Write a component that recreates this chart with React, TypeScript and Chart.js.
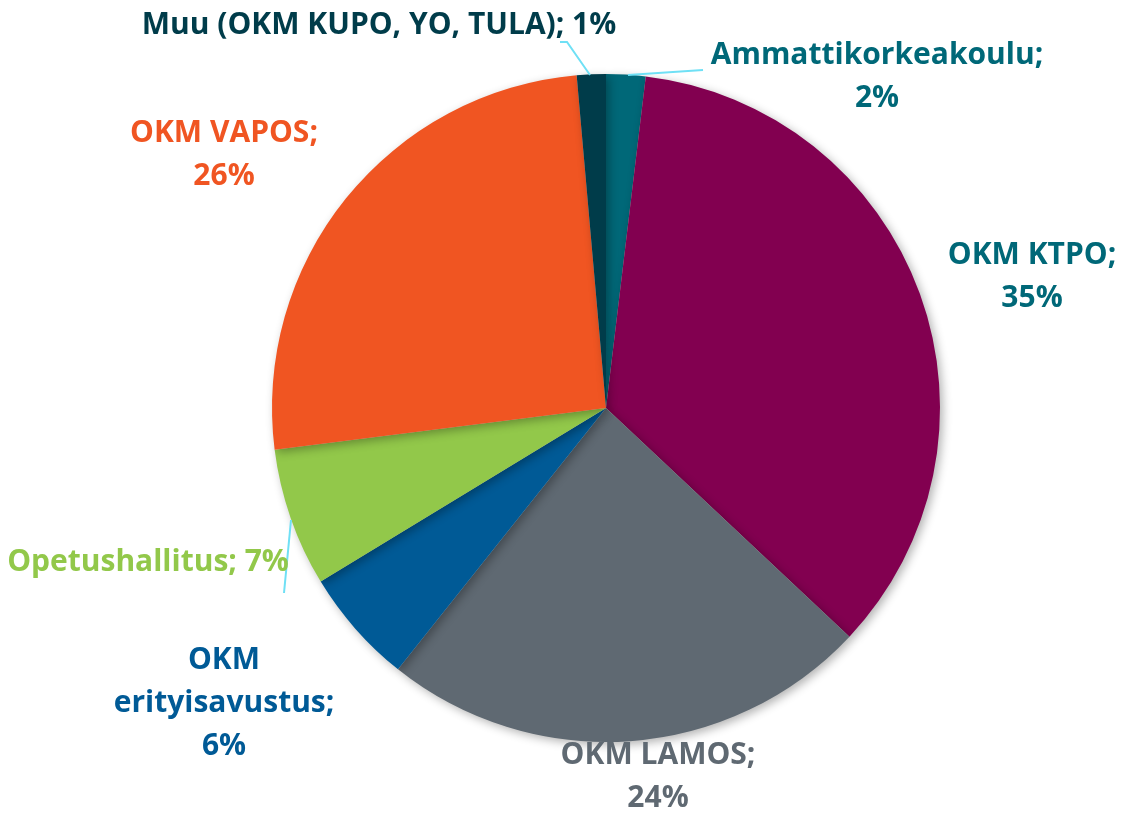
import React, { useEffect, useRef } from "react";
import { Chart, registerables } from "chart.js";

Chart.register(...registerables);

const categories = [
  "Ammattikorkeakoulu",
  "OKM KTPO",
  "OKM LAMOS",
  "OKM erityisavustus",
  "Opetushallitus",
  "OKM VAPOS",
  "Muu (OKM KUPO, YO, TULA)",
];
const values = [1.9, 35.1, 23.7, 5.6, 6.7, 25.6, 1.4];
const percentLabels = ["2%", "35%", "24%", "6%", "7%", "26%", "1%"];
const sliceColors = ["#006878", "#820050", "#5f6972", "#005a96", "#92c84a", "#f05522", "#003c4a"];
const labelColors = ["#006878", "#006878", "#5f6972", "#005a96", "#92c84a", "#f05522", "#003c4a"];

// label layout: lines built from categories + percent labels
const labelLayout = [
  { x: 877, y: 55, lines: (c: string, p: string) => [c + ";", p] },
  { x: 1032, y: 255, lines: (c: string, p: string) => [c + ";", p] },
  { x: 658, y: 755, lines: (c: string, p: string) => [c + ";", p] },
  { x: 224, y: 660, lines: (c: string, p: string) => ["OKM", c.replace("OKM ", "") + ";", p] },
  { x: 148, y: 562, lines: (c: string, p: string) => [c + "; " + p] },
  { x: 224, y: 133, lines: (c: string, p: string) => [c + ";", p] },
  { x: 379, y: 25, lines: (c: string, p: string) => [c + "; " + p] },
];
const leaderLines: Array<Array<[number, number]>> = [
  [[628, 75], [703, 70]],
  [],
  [],
  [],
  [[291, 520], [284, 593]],
  [],
  [[560, 42], [567, 42], [590, 75]],
];

const labelPlugin = {
  id: "sliceLabels",
  beforeDatasetsDraw(chart: any) {
    const ctx = chart.ctx;
    ctx.save();
    ctx.shadowColor = "rgba(0,0,0,0.3)";
    ctx.shadowBlur = 10;
    ctx.shadowOffsetX = 3;
    ctx.shadowOffsetY = 3;
  },
  afterDatasetsDraw(chart: any) {
    chart.ctx.restore();
  },
  afterDraw(chart: any) {
    const ctx = chart.ctx;
    ctx.save();
    ctx.strokeStyle = "#6fe0f5";
    ctx.lineWidth = 2;
    leaderLines.forEach((pts) => {
      if (pts.length < 2) return;
      ctx.beginPath();
      ctx.moveTo(pts[0][0], pts[0][1]);
      for (let i = 1; i < pts.length; i++) ctx.lineTo(pts[i][0], pts[i][1]);
      ctx.stroke();
    });
    ctx.font = "bold 30px 'Open Sans'";
    ctx.textAlign = "center";
    ctx.textBaseline = "middle";
    categories.forEach((c, i) => {
      const l = labelLayout[i];
      const lines = l.lines(c, percentLabels[i]);
      ctx.fillStyle = labelColors[i];
      lines.forEach((t, k) => ctx.fillText(t, l.x, l.y + k * 43));
    });
    ctx.restore();
  },
};

export default function App() {
  const ref = useRef<HTMLCanvasElement>(null);
  useEffect(() => {
    document.body.style.margin = "0";
    const chart = new Chart(ref.current!, {
      type: "pie",
      data: {
        labels: categories,
        datasets: [{ data: values, backgroundColor: sliceColors, borderWidth: 0 }],
      },
      options: {
        animation: false,
        responsive: false,
        layout: { padding: { left: 272, right: 188, top: 74, bottom: 73 } },
        plugins: { legend: { display: false }, tooltip: { enabled: false } },
      },
      plugins: [labelPlugin],
    });
    return () => chart.destroy();
  }, []);
  return (
    <div style={{ width: 1128, height: 815, background: "#fff" }}>
      <canvas ref={ref} width={1128} height={815} />
    </div>
  );
}
